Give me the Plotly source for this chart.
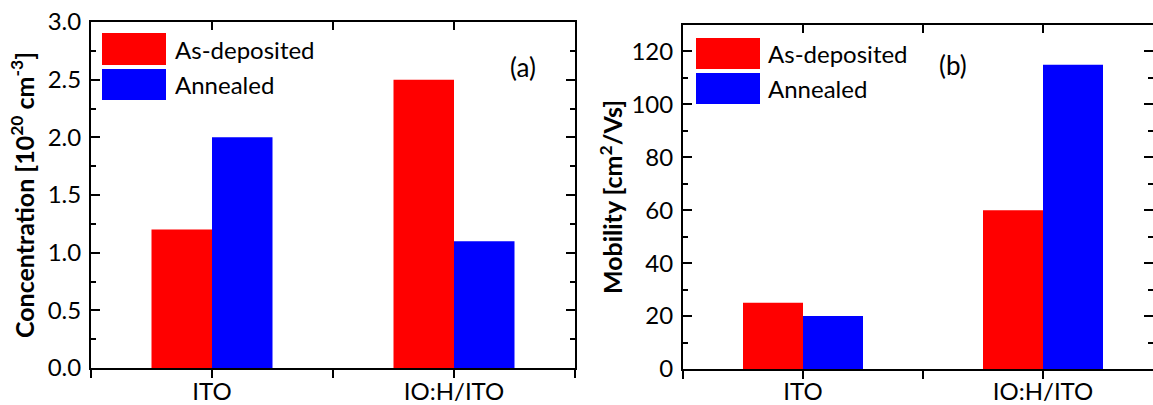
import plotly.graph_objects as go

categories = ["ITO", "IO:H/ITO"]
series_names = ["As-deposited", "Annealed"]
colors = ["#ff0000", "#0000ff"]
concentration = {"As-deposited": [1.2, 2.5], "Annealed": [2.0, 1.1]}
mobility = {"As-deposited": [25, 60], "Annealed": [20, 115]}

W, H = 1153, 405
FONT = "Lato"
FS = 24
TFS = 25

xpos = list(range(len(categories)))

fig = go.Figure()
for name, col in zip(series_names, colors):
    fig.add_trace(go.Bar(x=xpos, y=concentration[name], name=name, marker=dict(color=col, line=dict(width=0)),
                         xaxis="x", yaxis="y", showlegend=False, offsetgroup=name))
    fig.add_trace(go.Bar(x=xpos, y=mobility[name], name=name, marker=dict(color=col, line=dict(width=0)),
                         xaxis="x2", yaxis="y2", showlegend=False, offsetgroup=name))

mid_ticks = [-0.5, 0.5, 1.5]

def px_x(p):
    return p / W

def px_y(p):
    return 1 - p / H

common_x = dict(tickmode="array", tickvals=xpos, ticktext=categories, ticks="outside", ticklen=8, tickwidth=2,
                tickcolor="black", showline=True, linewidth=2, linecolor="black", showgrid=False,
                zeroline=False, tickfont=dict(family=FONT, size=FS, color="black"), automargin=False,
                minor=dict(tickmode="array", tickvals=mid_ticks, ticks="outside", ticklen=8, tickwidth=2,
                           tickcolor="black", showgrid=False))
top_x = dict(tickmode="array", tickvals=xpos, ticks="inside", ticklen=8, tickwidth=2, tickcolor="black",
             showline=True, linewidth=2, linecolor="black", showgrid=False, zeroline=False,
             showticklabels=False, side="top", automargin=False,
             minor=dict(tickmode="array", tickvals=mid_ticks, ticks="inside", ticklen=8, tickwidth=2,
                        tickcolor="black", showgrid=False))
common_y = dict(ticks="inside", ticklen=9, tickwidth=2, tickcolor="black", showline=True, linewidth=2,
                linecolor="black", mirror="ticks", showgrid=False, zeroline=False, automargin=False,
                ticklabelstandoff=3,
                tickfont=dict(family=FONT, size=FS, color="black"))

dxa = [px_x(91), px_x(575)]
dxb = [px_x(683), 1.0]
dya = [px_y(368), px_y(22)]
dyb = [px_y(369), px_y(25)]

rb_end = (W - 683) / 240 - 0.5

fig.update_layout(
    template="none",
    width=W, height=H, margin=dict(l=0, r=0, t=0, b=0, autoexpand=False),
    paper_bgcolor="white", plot_bgcolor="white",
    barmode="group", bargap=0.5, bargroupgap=0,
    font=dict(family=FONT, size=FS, color="black"),
    xaxis=dict(domain=dxa, range=[-0.5, 1.5], anchor="y", ticklabelstandoff=-7, **common_x),
    xaxis3=dict(domain=dxa, range=[-0.5, 1.5], anchor="y", overlaying="x", **top_x),
    yaxis=dict(domain=dya, range=[0, 3], dtick=0.5, tick0=0, tickformat=".1f", anchor="x",
               title=dict(text="<b>Concentration [10<sup>20</sup> cm<sup>-3</sup>]</b>",
                          font=dict(family=FONT, size=TFS, color="black"), standoff=6),
               minor=dict(dtick=0.25, tick0=0, ticks="inside", ticklen=5, tickwidth=2, tickcolor="black",
                          showgrid=False),
               **common_y),
    xaxis2=dict(domain=dxb, range=[-0.5, rb_end], anchor="y2", ticklabelstandoff=-8, **common_x),
    xaxis4=dict(domain=dxb, range=[-0.5, rb_end], anchor="y2", overlaying="x2", **top_x),
    yaxis2=dict(domain=dyb, range=[0, 130], tickmode="array", tickvals=[0, 20, 40, 60, 80, 100, 120],
                anchor="x2",
                title=dict(text="<b>Mobility [cm<sup>2</sup>/Vs]</b>",
                           font=dict(family=FONT, size=TFS, color="black")),
                minor=dict(dtick=10, tick0=0, ticks="inside", ticklen=5, tickwidth=2, tickcolor="black",
                           showgrid=False),
                **common_y),
)

# empty traces so the overlaid top axes render
fig.add_trace(go.Scatter(x=[None], y=[None], xaxis="x3", yaxis="y", showlegend=False, hoverinfo="skip"))
fig.add_trace(go.Scatter(x=[None], y=[None], xaxis="x4", yaxis="y2", showlegend=False, hoverinfo="skip"))

shapes = []
annotations = []
legend_specs = [
    (102, 166, [(33, 65), (69, 100)], 173),
    (696, 760, [(38, 69), (73, 104)], 766),
]
for x0, x1, rows, tx in legend_specs:
    for (y0, y1), name, col in zip(rows, series_names, colors):
        shapes.append(dict(type="rect", xref="paper", yref="paper", x0=px_x(x0), x1=px_x(x1),
                           y0=px_y(y1), y1=px_y(y0), fillcolor=col, line=dict(width=0)))
        annotations.append(dict(xref="paper", yref="paper", x=px_x(tx), y=px_y((y0 + y1) / 2),
                                text=name, showarrow=False, xanchor="left", yanchor="middle",
                                font=dict(family=FONT, size=FS, color="black")))

annotations.append(dict(xref="paper", yref="paper", x=px_x(523), y=px_y(67), text="(a)", showarrow=False,
                        xanchor="center", yanchor="middle", font=dict(family=FONT, size=FS + 2, color="black")))
annotations.append(dict(xref="paper", yref="paper", x=px_x(953), y=px_y(65), text="(b)", showarrow=False,
                        xanchor="center", yanchor="middle", font=dict(family=FONT, size=FS + 2, color="black")))

fig.update_layout(shapes=shapes, annotations=annotations)
fig.write_html("out.html")
